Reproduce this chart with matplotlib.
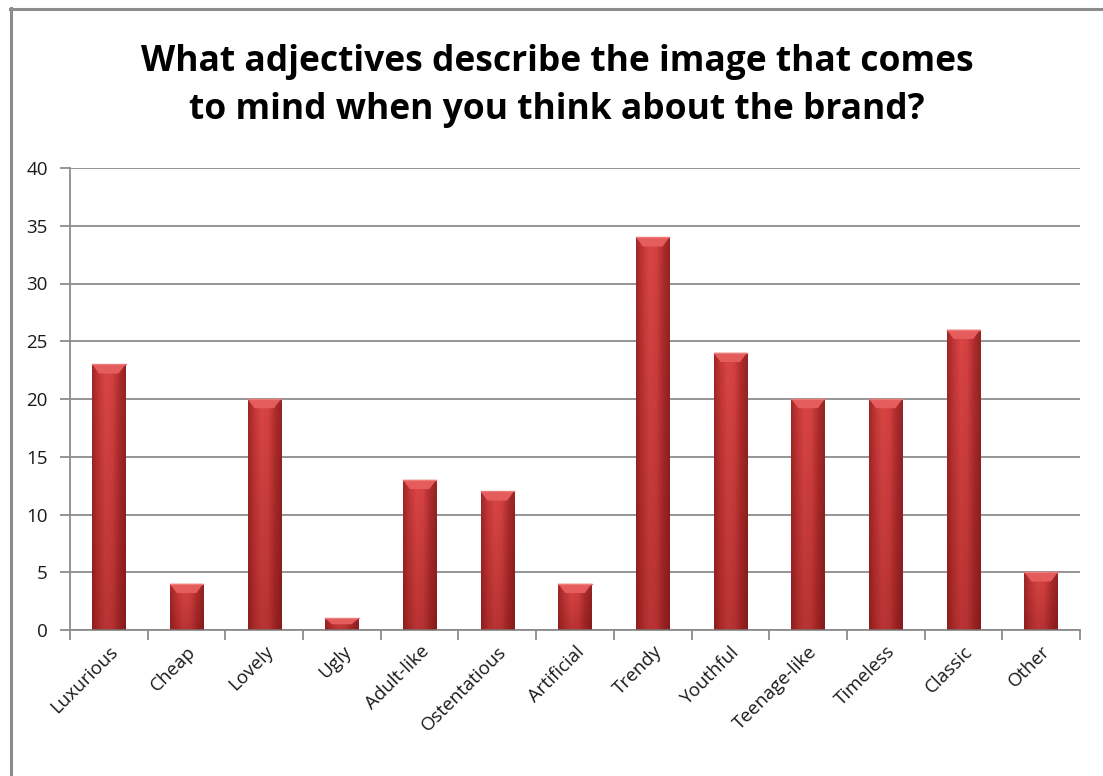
import numpy as np
import matplotlib
matplotlib.use("Agg")
import matplotlib.pyplot as plt
from matplotlib.patches import Polygon
from matplotlib.lines import Line2D
from matplotlib.colors import LinearSegmentedColormap

categories = ["Luxurious", "Cheap", "Lovely", "Ugly", "Adult-like", "Ostentatious",
              "Artificial", "Trendy", "Youthful", "Teenage-like", "Timeless",
              "Classic", "Other"]
values = [23, 4, 20, 1, 13, 12, 4, 34, 24, 20, 20, 26, 5]
y_ticks = [0, 5, 10, 15, 20, 25, 30, 35, 40]
title = "What adjectives describe the image that comes\nto mind when you think about the brand?"

W, H = 1103, 776
fig = plt.figure(figsize=(W / 100, H / 100), dpi=100)
fig.patch.set_facecolor("white")

# outer frame (left and top edges)
fig.add_artist(Line2D([10.5 / W, 10.5 / W], [0, 1 - 8 / H], transform=fig.transFigure,
                      color="#8c8c8c", lw=2.2))
fig.add_artist(Line2D([10 / W, 1], [1 - 8.5 / H, 1 - 8.5 / H], transform=fig.transFigure,
                      color="#8c8c8c", lw=2.2))

ax = fig.add_axes([70 / W, 1 - 630 / H, (1080 - 70) / W, (630 - 168) / H])
n = len(categories)
x = np.arange(n)
bw = 0.43

ax.set_xlim(-0.5, n - 0.5)
ax.set_ylim(0, 40)
ax.set_yticks(y_ticks)
ax.yaxis.grid(True, color="#8c8c8c", lw=1.3)
ax.set_axisbelow(True)
for s in ["top", "right"]:
    ax.spines[s].set_visible(False)
for s in ["left", "bottom"]:
    ax.spines[s].set_color("#8c8c8c")
    ax.spines[s].set_linewidth(1.3)

ax.set_xticks(np.arange(-0.5, n, 1.0))
ax.set_xticklabels([])
ax.set_xticks(x, minor=True)
ax.set_xticklabels(categories, minor=True, rotation=45, ha="right", va="top",
                   rotation_mode="anchor", fontsize=13.5, family="Open Sans", color="#1a1a1a")
ax.tick_params(axis="x", which="major", length=7, width=1.3, color="#8c8c8c", direction="out")
ax.tick_params(axis="x", which="minor", length=0, pad=9)
ax.tick_params(axis="y", length=7, width=1.3, color="#8c8c8c", direction="out", pad=9)
for lbl in ax.get_yticklabels():
    lbl.set_fontsize(13.5)
    lbl.set_family("Open Sans")
    lbl.set_color("#1a1a1a")

# bar shading: darker edges, lighter centre
cmap = LinearSegmentedColormap.from_list(
    "barshade", ["#a02828", "#c53838", "#d94646", "#d44242", "#b02e2e", "#952424"])
gx = np.linspace(0, 1, 64)
GX, _ = np.meshgrid(gx, np.linspace(0, 1, 64))

bars = ax.bar(x, values, width=bw, color="#c93a3a", edgecolor="none", zorder=2)
for b, v in zip(bars, values):
    x0 = b.get_x()
    x1 = x0 + b.get_width()
    im = ax.imshow(GX, cmap=cmap, vmin=0, vmax=1, aspect="auto",
                   extent=[x0, x1, 0, v], origin="lower", zorder=2.5, interpolation="bilinear")
    im.set_clip_path(b)
    # darkening toward the base
    dark = np.linspace(0.25, 0.0, 64)[:, None] * np.ones((1, 8))
    im2 = ax.imshow(np.dstack([np.full_like(dark, 0.35), np.zeros_like(dark),
                               np.zeros_like(dark), dark]),
                    aspect="auto", extent=[x0, x1, 0, v], origin="lower",
                    zorder=2.6, interpolation="bilinear")
    im2.set_clip_path(b)
    # bevelled top face
    dh = min(0.8, v * 0.5)
    dx = 0.09
    top = Polygon([(x0, v), (x1, v), (x1 - dx, v - dh), (x0 + dx, v - dh)],
                  closed=True, facecolor="#e45c5c", edgecolor="none", zorder=2.7)
    ax.add_patch(top)
    ax.plot([x0, x1], [v, v], color="#ee7a7a", lw=1.0, zorder=2.8)

ax.set_xlim(-0.5, n - 0.5)
ax.set_ylim(0, 40)

fig.text(0.505, 1 - 86 / H, title, ha="center", va="center", fontsize=25.5,
         fontweight="bold", family="Open Sans", color="black", linespacing=1.42)

fig.savefig("out.png", dpi=100)
